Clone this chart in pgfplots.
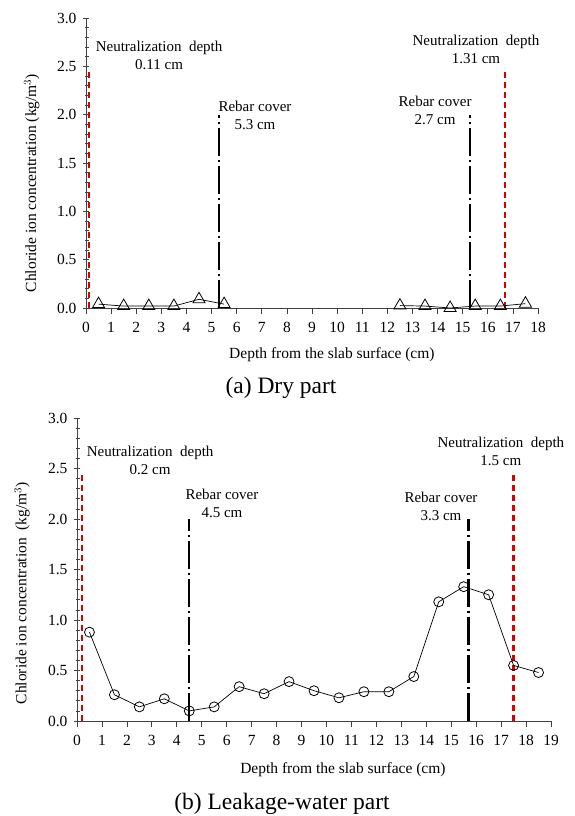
\documentclass[border=0pt]{standalone}
\usepackage{fontspec}
\setmainfont{Liberation Serif}
\usepackage{pgfplots}
\pgfplotsset{compat=1.18}

\pgfplotsset{
  chl/.style={
    scale only axis,
    axis lines=left,
    axis line style={-, black!75, line width=0.8pt},
    ymin=0, ymax=3,
    ytick={0,0.5,1,1.5,2,2.5,3},
    minor y tick num=4,
    xtick distance=1,
    tick align=outside,
    major tick length=6pt,
    minor tick length=3.5pt,
    y tick style={xshift=3pt},
    tick style={black!75, line width=0.7pt},
    /pgf/number format/assume math mode=true,
    tick label style={font=\fontsize{15.5}{18}\selectfont},
    xticklabel style={yshift=-5pt},
    yticklabel style={/pgf/number format/.cd, fixed, fixed zerofill, precision=1},
    clip=false,
  },
  nd/.style={red!85!black, line width=2.4pt, dash pattern=on 6pt off 4pt},
  rc/.style={black, line width=2.4pt, dash pattern=on 28pt off 4pt on 2pt off 4pt},
}
\tikzset{ann/.style={font=\fontsize{15}{18}\selectfont, align=center}}

\begin{document}
\begin{tikzpicture}
\useasboundingbox (0,0) rectangle (574pt,-816pt);

% (a) dry part
\begin{axis}[chl,
  at={(86pt,-308pt)}, anchor=south west,
  width=452pt, height=290pt,
  xmin=0, xmax=18,
  xlabel={Depth from the slab surface (cm)},
  ylabel={Chloride ion concentration (kg/m$^3$)},
  every axis x label/.style={at={(axis description cs:0.544,-0.162)}, anchor=center, font=\fontsize{15.5}{18}\selectfont},
  every axis y label/.style={at={(axis description cs:-0.12,0.431)}, anchor=center, rotate=90, font=\fontsize{15.5}{18}\selectfont},
]
\addplot[nd] coordinates {(0.11,0) (0.11,2.45)};
\addplot[rc] coordinates {(5.3,0) (5.3,2.0)};
\addplot[rc] coordinates {(15.3,0) (15.3,2.0)};
\addplot[nd] coordinates {(16.69,0) (16.69,2.45)};
\addplot[black, line width=0.7pt, mark=triangle, mark size=7pt, mark options={solid, line width=0.8pt}]
  coordinates {(0.5,0.04) (1.5,0.02) (2.5,0.02) (3.5,0.02) (4.5,0.09) (5.5,0.04)};
\addplot[black, line width=0.7pt, mark=triangle, mark size=7pt, mark options={solid, line width=0.8pt}]
  coordinates {(12.5,0.025) (13.5,0.02) (14.5,0.0) (15.5,0.02) (16.5,0.02) (17.5,0.045)};
\node[ann] at (axis cs:2.91,2.61) {Neutralization\ \ depth\\0.11 cm};
\node[ann] at (axis cs:6.73,1.99) {Rebar cover\\5.3 cm};
\node[ann] at (axis cs:13.9,2.04) {Rebar cover\\2.7 cm};
\node[ann] at (axis cs:15.53,2.68) {Neutralization\ \ depth\\1.31 cm};
\end{axis}
\node[font=\fontsize{23.5}{28}\selectfont] at (281pt,-388pt) {(a) Dry part};

% (b) leakage-water part
\begin{axis}[chl,
  at={(77pt,-721pt)}, anchor=south west,
  width=474pt, height=303pt,
  xmin=0, xmax=19,
  xlabel={Depth from the slab surface (cm)},
  ylabel={Chloride ion concentration\ \ (kg/m$^3$)},
  every axis x label/.style={at={(axis description cs:0.561,-0.162)}, anchor=center, font=\fontsize{15.5}{18}\selectfont},
  every axis y label/.style={at={(axis description cs:-0.116,0.422)}, anchor=center, rotate=90, font=\fontsize{15.5}{18}\selectfont},
]
\addplot[nd] coordinates {(0.2,0) (0.2,2.45)};
\addplot[rc] coordinates {(4.5,0) (4.5,2.0)};
\addplot[rc] coordinates {(15.7,0) (15.7,2.0)};
\addplot[nd] coordinates {(17.5,0) (17.5,2.47)};
\addplot[black, line width=0.7pt, mark=o, mark size=5pt, mark options={solid, line width=0.8pt}]
  coordinates {(0.5,0.88) (1.5,0.26) (2.5,0.14) (3.5,0.22) (4.5,0.10) (5.5,0.14)
               (6.5,0.34) (7.5,0.27) (8.5,0.39) (9.5,0.30) (10.5,0.23) (11.5,0.29)
               (12.5,0.29) (13.5,0.44) (14.5,1.18) (15.5,1.33) (16.5,1.25) (17.5,0.55)
               (18.5,0.48)};
\node[ann] at (axis cs:2.93,2.58) {Neutralization\ \ depth\\0.2 cm};
\node[ann] at (axis cs:5.81,2.15) {Rebar cover\\4.5 cm};
\node[ann] at (axis cs:14.59,2.12) {Rebar cover\\3.3 cm};
\node[ann] at (axis cs:16.99,2.67) {Neutralization\ \ depth\\1.5 cm};
\end{axis}
\node[font=\fontsize{23.5}{28}\selectfont] at (282pt,-804pt) {(b) Leakage-water part};
\end{tikzpicture}
\end{document}
